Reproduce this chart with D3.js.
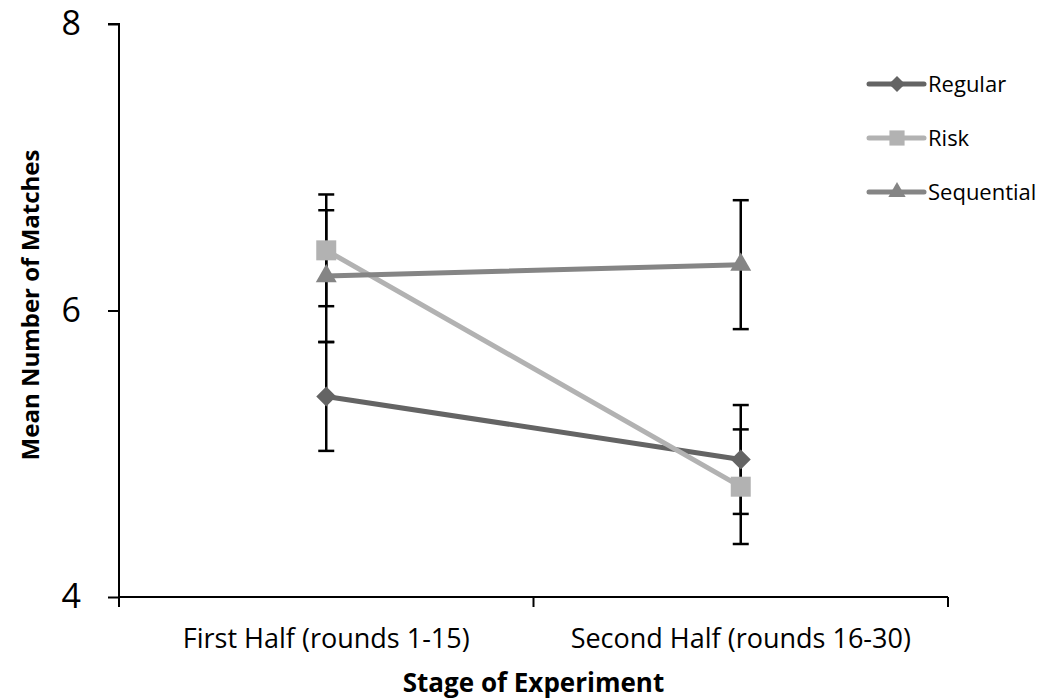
<!DOCTYPE html>
<html>
<head>
<meta charset="utf-8">
<script src="https://cdn.jsdelivr.net/npm/d3@7"></script>
<style>
  body { margin: 0; background: #fff; }
  text { font-family: "Open Sans", "Noto Sans", sans-serif; }
</style>
</head>
<body>
<div id="chart-area"></div>
<script>
const stages = ["First Half (rounds 1-15)", "Second Half (rounds 16-30)"]
const seriesNames = ["Regular", "Risk", "Sequential"]
const regularVals = [5.40, 4.96]
const regularErr = [0.38, 0.38]
const riskVals = [6.42, 4.77]
const riskErr = [0.39, 0.40]
const seqVals = [6.24, 6.32]
const seqErr = [0.46, 0.45]
const yTicks = [4, 6, 8]

const MARGIN = { LEFT: 119, RIGHT: 101, TOP: 24, BOTTOM: 103 }
const WIDTH = 1049 - MARGIN.LEFT - MARGIN.RIGHT
const HEIGHT = 700 - MARGIN.TOP - MARGIN.BOTTOM

// diamond = square turned 45 degrees
const diamond = {
  draw(ctx, size) {
    const r = Math.sqrt(size / 2)
    ctx.moveTo(0, -r); ctx.lineTo(r, 0); ctx.lineTo(0, r); ctx.lineTo(-r, 0); ctx.closePath()
  }
}

const series = [
  { name: seriesNames[0], vals: regularVals, err: regularErr, color: "#646464", shape: diamond, size: 200, lsize: 130 },
  { name: seriesNames[1], vals: riskVals, err: riskErr, color: "#b2b2b2", shape: d3.symbolSquare, size: 400, lsize: 230 },
  { name: seriesNames[2], vals: seqVals, err: seqErr, color: "#858585", shape: d3.symbolTriangle, size: 190, lsize: 130 }
]

const svg = d3.select("#chart-area").append("svg")
  .attr("width", 1049)
  .attr("height", 700)

const g = svg.append("g")
  .attr("transform", `translate(${MARGIN.LEFT}, ${MARGIN.TOP})`)

const x = d3.scaleBand()
  .domain(stages)
  .range([0, WIDTH])

const y = d3.scaleLinear()
  .domain([4, 8])
  .range([HEIGHT, 0])

// Y axis
const yAxis = g.append("g")
  .call(d3.axisLeft(y).tickValues(yTicks).tickFormat(d3.format("d")).tickSize(11).tickPadding(27))
yAxis.select(".domain").attr("stroke-width", 2).attr("d", `M-11,0H0V${HEIGHT}`)
yAxis.selectAll(".tick line").attr("stroke-width", 2)
yAxis.selectAll("text").attr("font-size", "34px").attr("fill", "#000")

// X axis
const xAxis = g.append("g")
  .attr("transform", `translate(0,${HEIGHT})`)
  .call(d3.axisBottom(x).tickSize(0).tickPadding(32))
xAxis.select(".domain").attr("stroke-width", 2).attr("d", `M0,0H${WIDTH}`)
xAxis.selectAll("text").attr("font-size", "27px").attr("fill", "#000")
// category boundaries
g.selectAll(".xsep")
  .data([0, 1, 2])
  .enter().append("line")
  .attr("x1", i => i * x.step())
  .attr("x2", i => i * x.step())
  .attr("y1", HEIGHT)
  .attr("y2", HEIGHT + 10)
  .attr("stroke", "#000")
  .attr("stroke-width", 2)

// Labels
g.append("text")
  .attr("x", WIDTH / 2)
  .attr("y", HEIGHT + 86)
  .attr("dy", "0.35em")
  .attr("font-size", "26px")
  .attr("font-weight", "bold")
  .attr("text-anchor", "middle")
  .text("Stage of Experiment")

g.append("text")
  .attr("x", -281)
  .attr("y", -80)
  .attr("font-size", "24px")
  .attr("font-weight", "bold")
  .attr("text-anchor", "middle")
  .attr("transform", "rotate(-90)")
  .text("Mean Number of Matches")

const cx = s => x(s) + x.bandwidth() / 2

// error bars
series.forEach(s => {
  const eb = g.append("g")
  stages.forEach((st, i) => {
    const lo = y(s.vals[i] - s.err[i]), hi = y(s.vals[i] + s.err[i])
    eb.append("line").attr("x1", cx(st)).attr("x2", cx(st)).attr("y1", lo).attr("y2", hi)
      .attr("stroke", "#000").attr("stroke-width", 2.5)
    ;[lo, hi].forEach(yy => {
      eb.append("line").attr("x1", cx(st) - 8).attr("x2", cx(st) + 8).attr("y1", yy).attr("y2", yy)
        .attr("stroke", "#000").attr("stroke-width", 2.5)
    })
  })
})

const line = d3.line().x(d => cx(d.stage)).y(d => y(d.v))

series.forEach(s => {
  const pts = stages.map((st, i) => ({ stage: st, v: s.vals[i] }))
  g.append("path")
    .datum(pts)
    .attr("d", line)
    .attr("fill", "none")
    .attr("stroke", s.color)
    .attr("stroke-width", 5)
    .attr("stroke-linecap", "round")
  g.selectAll(null)
    .data(pts)
    .enter().append("path")
    .attr("d", d3.symbol().type(s.shape).size(s.size))
    .attr("transform", d => `translate(${cx(d.stage)},${y(d.v)})`)
    .attr("fill", s.color)
})

// legend
const legend = svg.append("g").attr("transform", "translate(869, 84)")
series.forEach((s, i) => {
  const lg = legend.append("g").attr("transform", `translate(0, ${i * 54})`)
  lg.append("line").attr("x1", 0).attr("x2", 55).attr("y1", 0).attr("y2", 0)
    .attr("stroke", s.color).attr("stroke-width", 5).attr("stroke-linecap", "round")
  lg.append("path")
    .attr("d", d3.symbol().type(s.shape).size(s.lsize))
    .attr("transform", "translate(28,0)")
    .attr("fill", s.color)
  lg.append("text").attr("x", 59).attr("y", 0).attr("dy", "0.35em")
    .attr("font-size", "22px").text(s.name)
})
</script>
</body>
</html>
